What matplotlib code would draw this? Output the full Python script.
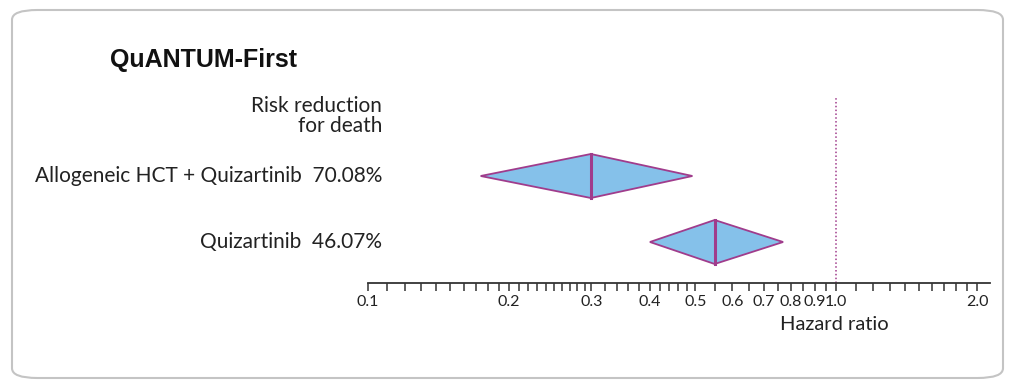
import numpy as np
import matplotlib as mpl
mpl.use('Agg')
import matplotlib.pyplot as plt
from matplotlib.patches import Polygon, FancyBboxPatch
from matplotlib.ticker import FixedLocator, FixedFormatter, NullFormatter

plt.rcParams['font.family'] = ['Lato', 'DejaVu Sans']

# data
groups = ['Allogeneic HCT + Quizartinib', 'Quizartinib']
risk_reduction = ['70.08%', '46.07%']
hr = [0.2992, 0.55]
hr_low = [0.174, 0.40]
hr_high = [0.493, 0.77]
rows = [2, 1]

major_ticks = [0.1, 0.2, 0.3, 0.4, 0.5, 0.6, 0.7, 0.8, 0.9, 1.0, 2.0]
major_labels = ['0.1', '0.2', '0.3', '0.4', '0.5', '0.6', '0.7', '0.8', '0.9', '1.0', '2.0']
minor_ticks = list(np.arange(0.11, 0.30, 0.01)) + list(np.arange(0.32, 0.50, 0.02)) + \
    list(np.arange(0.55, 1.0, 0.05)) + list(np.arange(1.1, 2.0, 0.1))

fill_col = '#85c1ea'
edge_col = '#a03c8c'

fig = plt.figure(figsize=(10.17, 3.9), dpi=100)

# rounded frame
frame = FancyBboxPatch((12 / 1017, 12 / 390), 991 / 1017, 368 / 390,
                       boxstyle='round,pad=0,rounding_size=0.025', transform=fig.transFigure,
                       facecolor='none', edgecolor='#c4c4c4', linewidth=1.5, zorder=0)
fig.patches.append(frame)

ax = fig.add_axes([368 / 1017, 1 - 283 / 390, 622 / 1017, 243 / 390])
ax.set_facecolor('none')
ax.set_zorder(2)
ax.set_xscale('log')
ax.set_xlim(0.1, 2.13)
ax.set_ylim(1 + (242 - 283) / 66, 1 + (242 - 40) / 66)

half_h = 22 / 66
for y, c, lo, hi in zip(rows, hr, hr_low, hr_high):
    d = Polygon([(lo, y), (c, y + half_h), (hi, y), (c, y - half_h)], closed=True,
                facecolor=fill_col, edgecolor=edge_col, linewidth=1.3, zorder=3)
    ax.add_patch(d)
    ax.plot([c, c], [y - half_h, y + half_h], color=edge_col, linewidth=2.2, zorder=4)

# reference line
ax.plot([1.0, 1.0], [ax.get_ylim()[0], 3.2], color=edge_col, linestyle=(0, (1, 1.5)),
        linewidth=1.1, zorder=2)

for s in ['top', 'left', 'right']:
    ax.spines[s].set_visible(False)
ax.spines['bottom'].set_color('#333333')
ax.spines['bottom'].set_linewidth(1.3)
ax.set_yticks([])
ax.xaxis.set_major_locator(FixedLocator(major_ticks))
ax.xaxis.set_major_formatter(FixedFormatter(major_labels))
ax.xaxis.set_minor_locator(FixedLocator(minor_ticks))
ax.xaxis.set_minor_formatter(NullFormatter())
ax.tick_params(axis='x', which='both', direction='out', length=6, width=1.1,
               color='#333333', labelsize=11.5, pad=3, labelcolor='#222222')

# row labels
ytr = ax.get_yaxis_transform()
for y, g, r in zip(rows, groups, risk_reduction):
    ax.text(0.0225, y, g + '  ' + r, transform=ytr, ha='right', va='center',
            fontsize=15, color='#222222')
ax.text(0.0225, 1 + (242 - 116) / 66, 'Risk reduction\nfor death', transform=ytr,
        ha='right', va='center', fontsize=15, color='#222222', linespacing=1.05)

fig.text(110 / 1017, 1 - 60 / 390, 'QuANTUM-First', ha='left', va='center',
         fontsize=18, fontweight='bold', color='#111111', family='Liberation Sans')
fig.text(834 / 1017, 1 - 325 / 390, 'Hazard ratio', ha='center', va='center',
         fontsize=14.5, color='#222222')

fig.savefig('out.png', dpi=100)
